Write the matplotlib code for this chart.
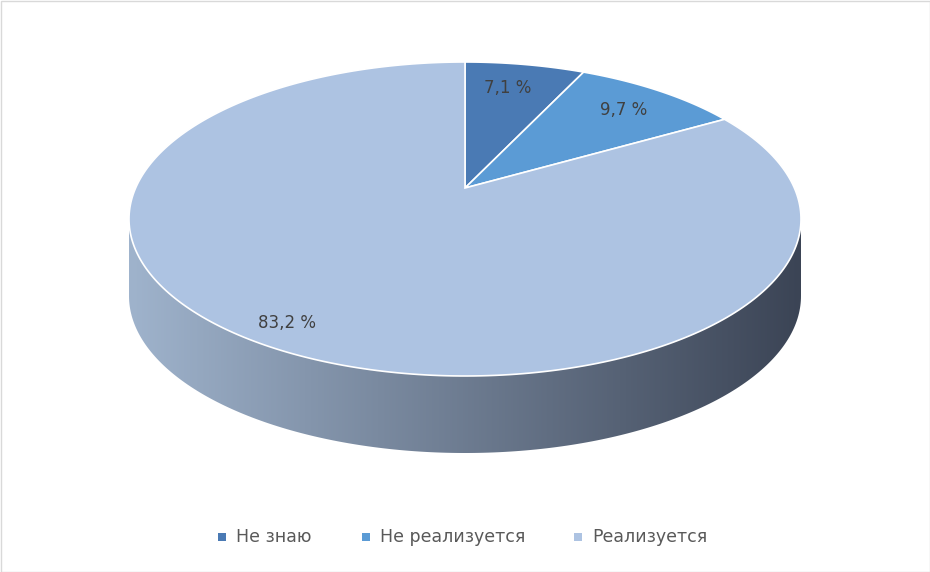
import numpy as np
import matplotlib.pyplot as plt
from matplotlib.patches import Polygon, Rectangle
from matplotlib.colors import LinearSegmentedColormap

labels = ["Не знаю", "Не реализуется", "Реализуется"]
values = [7.1, 9.7, 83.2]
value_text = ["7,1 %", "9,7 %", "83,2 %"]
colors = ["#4a7ab4", "#5b9bd5", "#adc3e2"]
label_pos = [(508, 88), (624, 110), (287, 323)]

W, H = 930, 572
cx, cy, rx, ry, depth = 465, 219, 336, 157, 77
ax0, ay0 = 465, 188  # apex of the slices (perspective)

fig = plt.figure(figsize=(W / 100, H / 100), dpi=100)
ax = fig.add_axes([0, 0, 1, 1])
ax.add_patch(Rectangle((0.5, 0.5), W - 1, H - 1, fill=False, ec="#d9d9d9", lw=1))


def rim(t):
    return cx + rx * np.sin(t), cy - ry * np.cos(t)


def rim_from_apex(t):
    # intersect ray from apex with ellipse
    dx, dy = rx * np.sin(t), -ry * np.cos(t)
    ox, oy = (ax0 - cx) / rx, (ay0 - cy) / ry
    ux, uy = dx / rx, dy / ry
    a = ux ** 2 + uy ** 2
    b = 2 * (ox * ux + oy * uy)
    c = ox ** 2 + oy ** 2 - 1
    s = (-b + np.sqrt(b ** 2 - 4 * a * c)) / (2 * a)
    return ax0 + s * dx, ay0 + s * dy


# side wall
t = np.linspace(np.pi / 2, 3 * np.pi / 2, 200)
xs, ys = rim(t)
side = np.column_stack([np.r_[xs, xs[::-1]], np.r_[ys, ys[::-1] + depth]])
side_poly = Polygon(side, closed=True, fc="none", ec="none")
ax.add_patch(side_poly)
grad = np.linspace(1, 0, 256)[None, :]
cmap = LinearSegmentedColormap.from_list("side", ["#3b4455", "#9fb3cc"])
img = ax.imshow(grad, cmap=cmap, extent=[cx - rx, cx + rx, cy + ry + depth, cy - 10],
                aspect="auto", zorder=1)
img.set_clip_path(side_poly)

# top slices
total = sum(values)
start = 0.0
for v, c in zip(values, colors):
    a0 = start / total * 2 * np.pi
    a1 = (start + v) / total * 2 * np.pi
    tt = np.linspace(a0, a1, 300)
    px, py = rim_from_apex(tt)
    pts = np.column_stack([np.r_[ax0, px], np.r_[ay0, py]])
    ax.add_patch(Polygon(pts, closed=True, fc=c, ec="white", lw=1.2, zorder=2))
    start += v

for txt, (x, y) in zip(value_text, label_pos):
    ax.text(x, y, txt, ha="center", va="center", fontsize=12, color="#404040", zorder=3)

# legend
lx = [222, 366, 578]
for x, lab, c in zip(lx, labels, colors):
    ax.add_patch(Rectangle((x - 4, 533), 8, 8, fc=c, ec="none"))
    ax.text(x + 14, 537, lab, ha="left", va="center", fontsize=12.5, color="#595959")

ax.set_xlim(0, W)
ax.set_ylim(H, 0)
ax.axis("off")
fig.savefig("out.png", dpi=100)
